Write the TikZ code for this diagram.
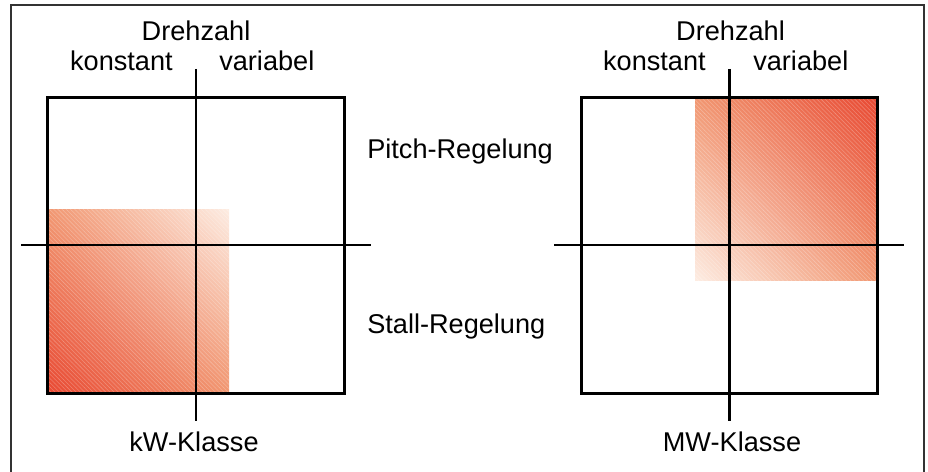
\documentclass[tikz,border=0pt]{standalone}
\usepackage{fontspec}
\setmainfont{Liberation Sans}
\usepackage{tikz}
\usetikzlibrary{shadings,patterns}

\definecolor{deepred}{RGB}{232,72,50}
\definecolor{salmon}{RGB}{241,150,112}
\definecolor{paleorange}{RGB}{253,236,226}

\begin{document}
\begin{tikzpicture}[x=0.025cm, y=-0.025cm,
    every node/.style={inner sep=0pt, font=\fontsize{19.3pt}{23pt}\selectfont},
    quadbox/.style={draw, line width=2.1pt, minimum width=7.42cm, minimum height=7.4cm},
    axis/.style={line width=1.8pt},
    lab/.style={anchor=base},
    zone/.style={pattern=north west lines, pattern color=white, opacity=0.25}]
    \useasboundingbox (0,0) rectangle (928,472);
    \draw[line width=1.2pt, black!80] (11,5) rectangle (924,480);

    % kW-Klasse
    \shade[lower left=deepred, upper right=paleorange, upper left=salmon, lower right=salmon]
        (46,210) rectangle (229,393);
    \fill[zone] (46,210) rectangle (229,393);
    \node[quadbox] (boxL) at (196,245.2) {};
    \coordinate (lTop) at (196,69);
    \coordinate (lBot) at (196,421);
    \coordinate (lLeft) at (21,245);
    \coordinate (lRight) at (371,245);
    \draw[axis] (lTop) -- (lBot);
    \draw[axis] (lLeft) -- (lRight);
    \node[lab] (drehL) at (196,41) {Drehzahl};
    \node[anchor=base east] (konstL) at (173,71) {konstant};
    \node[anchor=base west] (varL) at (219,71) {variabel};
    \node[lab] (kw) at (194,451) {kW-Klasse};

    % Regelung
    \node[anchor=base west] (pitch) at (367,159) {Pitch-Regelung};
    \node[anchor=base west] (stall) at (367,333) {Stall-Regelung};

    % MW-Klasse
    \shade[upper right=deepred, lower left=paleorange, upper left=salmon, lower right=salmon]
        (695,97) rectangle (878,280);
    \fill[zone] (695,97) rectangle (878,280);
    \node[quadbox] (boxR) at (729.5,245.2) {};
    \coordinate (rTop) at (729.5,69);
    \coordinate (rBot) at (729.5,421);
    \coordinate (rLeft) at (554,245);
    \coordinate (rRight) at (904,245);
    \draw[axis] (rTop) -- (rBot);
    \draw[axis] (rLeft) -- (rRight);
    \node[lab] (drehR) at (730.5,41) {Drehzahl};
    \node[anchor=base east] (konstR) at (706,71) {konstant};
    \node[anchor=base west] (varR) at (753,71) {variabel};
    \node[lab] (mw) at (732,451) {MW-Klasse};
\end{tikzpicture}
\end{document}
